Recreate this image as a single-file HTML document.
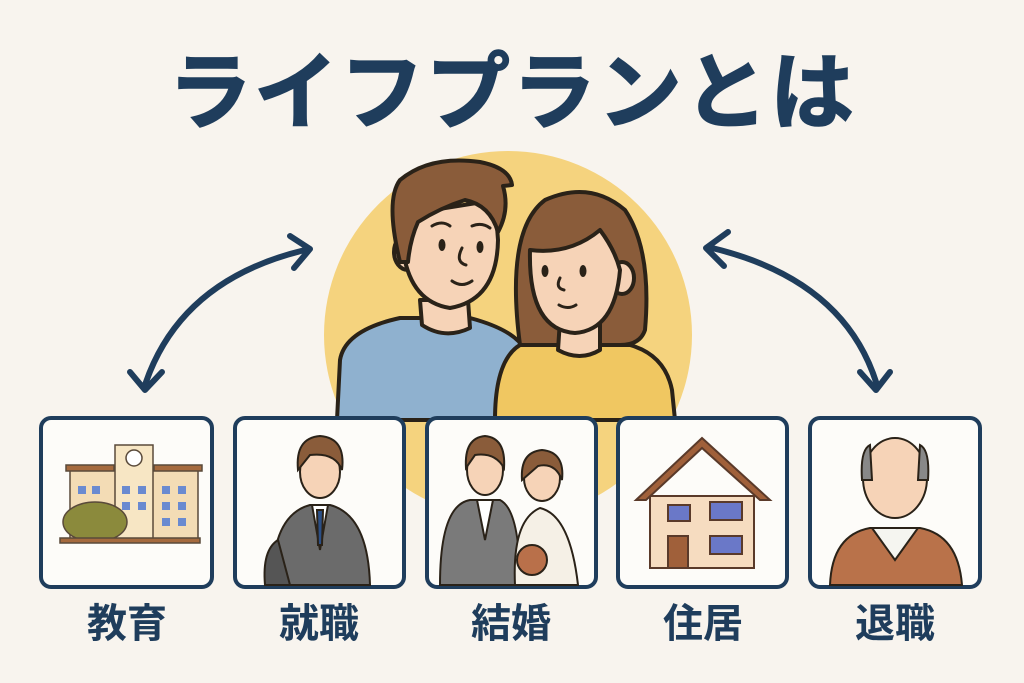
<!DOCTYPE html>
<html><head><meta charset="utf-8"><style>
html,body{margin:0;padding:0;background:#f8f4ee;}
svg{display:block}
text{font-family:"Liberation Sans","Noto Sans CJK JP",sans-serif;font-weight:bold;fill:#1f3d5c}
</style></head><body>
<svg width="1024" height="683" viewBox="0 0 1024 683" xmlns="http://www.w3.org/2000/svg">
<rect width="1024" height="683" fill="#f8f4ee"/>
<text x="512" y="122" font-size="84" text-anchor="middle" letter-spacing="2" stroke="#1f3d5c" stroke-width="1.5">ライフプランとは</text>
<circle cx="508" cy="335" r="184" fill="#f5d37e"/>
<g stroke="#2a2218" stroke-width="4" stroke-linejoin="round" stroke-linecap="round">
<!-- man body -->
<path d="M337 420 L340 360 Q345 330 400 318 L470 318 Q515 330 525 350 L525 420 Z" fill="#8fb1cf"/>
<path d="M420 300 L422 325 Q445 340 470 328 L468 300 Z" fill="#f6d3b7"/>
<!-- man head -->
<ellipse cx="408" cy="252" rx="14" ry="18" fill="#f6d3b7"/>
<path d="M402 215 Q398 300 450 308 Q497 300 498 240 L495 200 Z" fill="#f6d3b7"/>
<path d="M400 262 Q385 200 400 180 Q430 155 480 162 Q510 168 512 185 L503 186 Q510 210 498 232 Q490 205 465 200 Q440 208 418 222 Q410 240 408 262 Z" fill="#8a5c3a"/>
<!-- woman body -->
<path d="M495 420 Q495 360 520 345 Q545 340 560 345 L630 345 Q665 355 672 390 L675 420 Z" fill="#f0c761"/>
<!-- woman hair back -->
<path d="M520 345 Q505 230 545 200 Q590 180 625 210 Q652 250 645 330 Q640 345 620 345 Z" fill="#8a5c3a"/>
<path d="M560 320 L558 350 Q580 362 600 350 L600 320 Z" fill="#f6d3b7"/>
<ellipse cx="622" cy="278" rx="12" ry="16" fill="#f6d3b7"/>
<path d="M530 250 Q528 330 575 333 Q615 330 620 270 Q615 250 600 230 Q570 255 530 250 Z" fill="#f6d3b7"/>
</g>
<g fill="#2a2218">
<ellipse cx="442" cy="245" rx="3.5" ry="6"/><ellipse cx="480" cy="247" rx="3.5" ry="6"/>
<ellipse cx="545" cy="271" rx="3.5" ry="6"/><ellipse cx="583" cy="271" rx="3.5" ry="6"/>
</g>
<g fill="none" stroke="#2a2218" stroke-width="3" stroke-linecap="round">
<path d="M462 248 Q455 262 466 265"/><path d="M452 281 Q462 288 472 281"/>
<path d="M560 278 Q555 288 564 290"/><path d="M559 305 Q568 310 576 305"/>
<path d="M432 226 Q442 220 450 226"/><path d="M472 226 Q482 222 490 228"/>
</g>
<!-- arrows -->
<g fill="none" stroke="#1f3d5c" stroke-width="6" stroke-linecap="round" stroke-linejoin="round">
<path d="M145 385 Q180 280 305 250"/><path d="M290 236 L310 249 L294 268"/><path d="M130 372 L145 390 L162 372"/>
<path d="M877 385 Q845 280 712 248"/><path d="M728 232 L706 248 L724 266"/><path d="M860 372 L876 390 L890 372"/>
</g>
<!-- boxes -->
<g fill="#fdfcf9" stroke="#1f3d5c" stroke-width="4">
<rect x="41" y="418" width="171" height="169" rx="10"/>
<rect x="235" y="418" width="169" height="169" rx="10"/>
<rect x="427" y="418" width="169" height="169" rx="10"/>
<rect x="618" y="418" width="169" height="169" rx="10"/>
<rect x="810" y="418" width="170" height="169" rx="10"/>
</g>
<!-- school -->
<g stroke="#5a4a3a" stroke-width="1.5">
<rect x="70" y="470" width="128" height="70" fill="#f3dcb5"/>
<rect x="115" y="445" width="38" height="95" fill="#f7e6c4"/>
<circle cx="134" cy="458" r="8" fill="#fff"/>
<rect x="66" y="465" width="48" height="6" fill="#a56a3e"/>
<rect x="154" y="465" width="48" height="6" fill="#a56a3e"/>
<g fill="#6a8ad0" stroke="none">
<rect x="78" y="486" width="8" height="8"/><rect x="92" y="486" width="8" height="8"/><rect x="122" y="486" width="8" height="8"/><rect x="138" y="486" width="8" height="8"/><rect x="162" y="486" width="8" height="8"/><rect x="178" y="486" width="8" height="8"/>
<rect x="122" y="502" width="8" height="8"/><rect x="138" y="502" width="8" height="8"/><rect x="162" y="502" width="8" height="8"/><rect x="178" y="502" width="8" height="8"/>
<rect x="162" y="518" width="8" height="8"/><rect x="178" y="518" width="8" height="8"/>
</g>
<ellipse cx="95" cy="522" rx="32" ry="20" fill="#8b8a3c"/>
<rect x="60" y="538" width="140" height="5" fill="#a56a3e"/>
</g>
<!-- job person -->
<g stroke="#2a2218" stroke-width="2">
<path d="M272 585 Q272 515 310 505 L330 505 Q368 515 370 585 Z" fill="#6b6b6b"/>
<path d="M312 505 L320 550 L328 505 Z" fill="#fff"/>
<path d="M317 510 L323 510 L322 545 L318 545 Z" fill="#2b4f86"/>
<ellipse cx="320" cy="472" rx="20" ry="26" fill="#f6d3b7"/>
<path d="M298 470 Q295 438 320 436 Q346 438 342 470 Q335 452 310 455 Z" fill="#8a5c3a"/>
<path d="M265 585 Q262 550 278 540 L290 585 Z" fill="#555"/>
</g>
<!-- wedding -->
<g stroke="#2a2218" stroke-width="2">
<path d="M440 585 Q440 505 470 500 L500 500 Q520 510 520 585 Z" fill="#7a7a7a"/>
<path d="M477 500 L485 540 L493 500 Z" fill="#fff"/>
<ellipse cx="485" cy="470" rx="18" ry="25" fill="#f6d3b7"/>
<path d="M466 468 Q464 438 485 436 Q506 438 504 468 Q495 452 475 455 Z" fill="#8a5c3a"/>
<path d="M515 585 Q512 520 540 508 Q570 515 578 585 Z" fill="#f5f0e6"/>
<ellipse cx="542" cy="478" rx="18" ry="23" fill="#f6d3b7"/>
<path d="M522 480 Q520 452 542 450 Q565 452 562 480 Q555 462 538 466 Z" fill="#8a5c3a"/>
<circle cx="532" cy="560" r="15" fill="#b9704a"/>
</g>
<!-- house -->
<g stroke="#5a3a2a" stroke-width="2">
<rect x="650" y="496" width="104" height="72" fill="#f6dcc0"/>
<path d="M636 500 L702 438 L770 500 L760 500 L702 448 L646 500 Z" fill="#a0603a"/>
<rect x="668" y="505" width="22" height="16" fill="#6a78c8"/>
<rect x="710" y="502" width="32" height="18" fill="#6a78c8"/>
<rect x="710" y="536" width="32" height="18" fill="#6a78c8"/>
<rect x="668" y="536" width="20" height="32" fill="#a0603a"/>
</g>
<!-- retiree -->
<g stroke="#2a2218" stroke-width="2">
<path d="M830 585 Q832 535 870 528 L920 528 Q958 535 962 585 Z" fill="#b9724a"/>
<path d="M872 528 L895 560 L918 528 Z" fill="#f5f5f0"/>
<ellipse cx="895" cy="478" rx="32" ry="40" fill="#f6d3b7"/>
<path d="M862 480 Q860 450 870 445 L872 480 Z M928 480 Q930 450 920 445 L918 480 Z" fill="#888"/>
</g>
<g font-size="40">
<text x="127" y="637" text-anchor="middle">教育</text>
<text x="319" y="637" text-anchor="middle">就職</text>
<text x="511" y="637" text-anchor="middle">結婚</text>
<text x="703" y="637" text-anchor="middle">住居</text>
<text x="895" y="637" text-anchor="middle">退職</text>
</g>
</svg>
</body></html>
